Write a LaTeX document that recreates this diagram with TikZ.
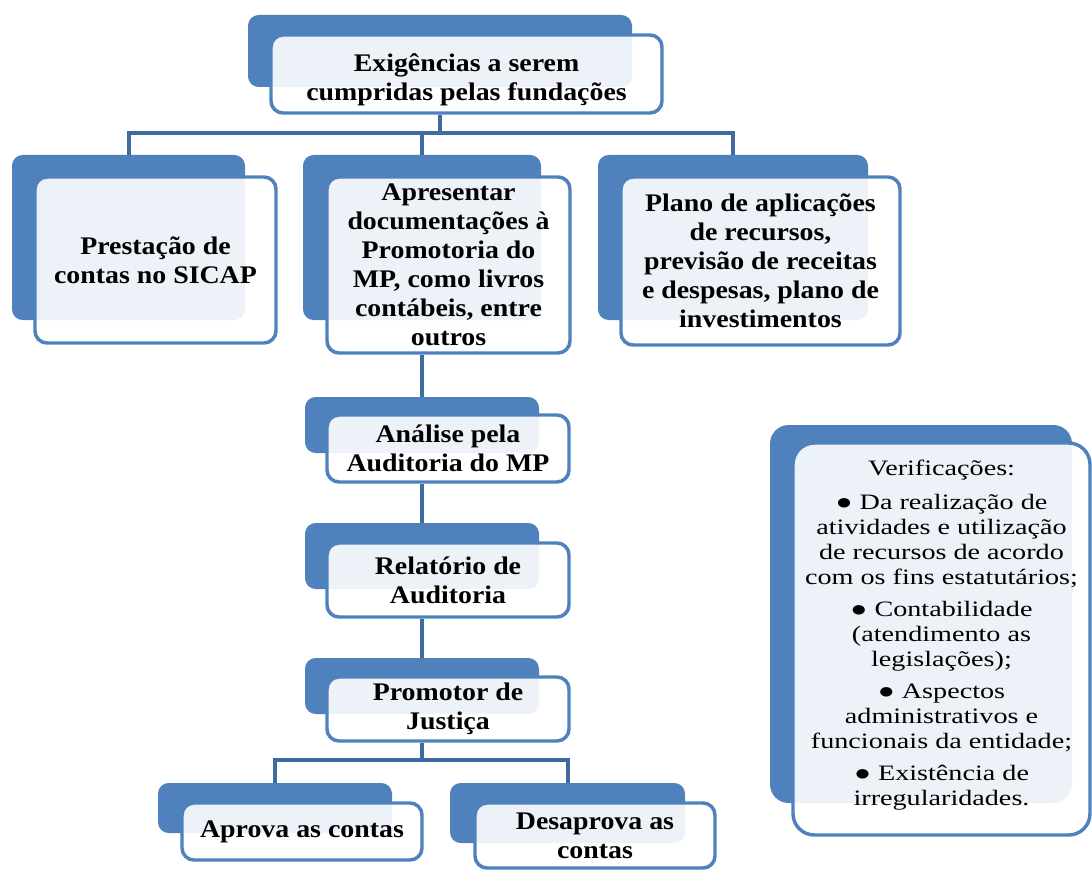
\documentclass[tikz,border=0pt]{standalone}
\usepackage{fontspec}
\setmainfont{Liberation Serif}
\newfontfamily\headfont{Liberation Serif}[FakeStretch=1.1]
\newfontfamily\notefont{Liberation Serif}[FakeStretch=1.28]
\usetikzlibrary{backgrounds}
\definecolor{boxblue}{RGB}{79,129,189}
\definecolor{linkblue}{RGB}{62,108,161}

\begin{document}
\begin{tikzpicture}[x=0.75pt,y=-0.75pt,
  boxsize/.style 2 args={minimum width=0.75*#1 pt,minimum height=0.75*#2 pt},
  back/.style={rectangle,rounded corners=8pt,fill=boxblue,inner sep=0pt},
  front/.style={rectangle,rounded corners=9pt,draw=boxblue,line width=2.6pt,
    fill=white,fill opacity=0.9,text opacity=1,align=center,inner sep=0pt,
    font=\headfont\bfseries\fontsize{19}{21.75}\selectfont},
  boxtext/.style={align=center,inner sep=0pt,
    font=\headfont\bfseries\fontsize{19}{21.75}\selectfont},
  notetext/.style={align=center,inner sep=0pt,
    font=\notefont\fontsize{16.5}{18.8}\selectfont},
  link/.style={draw=linkblue,line width=3pt}]
  \useasboundingbox (0,0) rectangle (1092,870);
%%
  % Node: top
  \node[back,boxsize={384}{72}] (topb) at (440,51) {};
  \node[front,boxsize={391}{78}] (top) at (466.5,74) {};
  \node[boxtext] (toptext) at ([yshift=-4pt]top.center) {Exigências  a serem\\cumpridas  pelas  fundações};
  % Node: sicap
  \node[back,boxsize={233}{165}] (sicapb) at (128.5,237.5) {};
  \node[front,boxsize={241}{166}] (sicap) at (155.5,260) {Prestação de\\contas no SICAP};
  % Node: docs
  \node[back,boxsize={238}{165}] (docsb) at (422,237.5) {};
  \node[front,boxsize={243}{176}] (docs) at (448.5,265) {Apresentar\\documentações à\\Promotoria do\\MP, como livros\\contábeis, entre\\outros};
  % Node: plano
  \node[back,boxsize={270}{165}] (planob) at (733,237.5) {};
  \node[front,boxsize={279}{168}] (plano) at (760.5,261) {Plano de aplicações\\de recursos,\\previsão  de receitas\\e despesas, plano  de\\investimentos};
  % Node: analise
  \node[back,boxsize={234}{56}] (analiseb) at (422,425) {};
  \node[front,boxsize={242}{67}] (analise) at (448,448.5) {Análise  pela\\Auditoria  do MP};
  % Node: relatorio
  \node[back,boxsize={234}{66}] (relatoriob) at (422,556) {};
  \node[front,boxsize={242}{74}] (relatorio) at (448,580) {Relatório  de\\Auditoria};
  % Node: promotor
  \node[back,boxsize={234}{56}] (promotorb) at (422,686) {};
  \node[front,boxsize={242}{64}] (promotor) at (448,709) {Promotor de\\Justiça};
  % Node: aprova
  \node[back,boxsize={234}{50}] (aprovab) at (275,808) {};
  \node[front,boxsize={240}{57}] (aprova) at (302,831.5) {Aprova  as contas};
  % Node: desaprova
  \node[back,boxsize={235}{60}] (desaprovab) at (567.5,813) {};
  \node[front,boxsize={240}{65}] (desaprova) at (595,835.5) {Desaprova as\\contas};
  % Node: verif
  \node[back,rounded corners=14pt,boxsize={302}{378}] (verifb) at (921,614) {};
  \node[front,rounded corners=16pt,boxsize={297}{392}] (verif) at (941.5,639) {};
  \node[notetext] (veriftext) at ([yshift=3pt]verif.center)
    {Verificações:\\[6.5pt]
     ● Da realização de\\atividades e utilização\\de recursos de acordo\\com os fins estatutários;\\[5pt]
     ● Contabilidade\\(atendimento as\\legislações);\\[5pt]
     ● Aspectos\\administrativos e\\funcionais da entidade;\\[5pt]
     ● Existência de\\irregularidades.};
%
\begin{scope}[on background layer]
  \coordinate (busa) at (440,133);
  \coordinate (busb) at (422,760);
  % Edge: top -> sicap, docs, plano
  \draw[link] (topb.south |- top.south) -- (busa);
  \draw[link] (sicapb.north) |- (busa) -| (planob.north);
  \draw[link] (busa -| docsb.north) -- (docsb.north);
  % Edge: docs -> analise
  \draw[link] (docsb.south |- docs.south) -- (analiseb.north);
  % Edge: analise -> relatorio
  \draw[link] (analiseb.south |- analise.south) -- (relatoriob.north);
  % Edge: relatorio -> promotor
  \draw[link] (relatoriob.south |- relatorio.south) -- (promotorb.north);
  % Edge: promotor -> aprova, desaprova
  \draw[link] (promotorb.south |- promotor.south) -- (busb);
  \draw[link] (aprovab.north) |- (busb) -| (desaprovab.north);
\end{scope}
\end{tikzpicture}
\end{document}
